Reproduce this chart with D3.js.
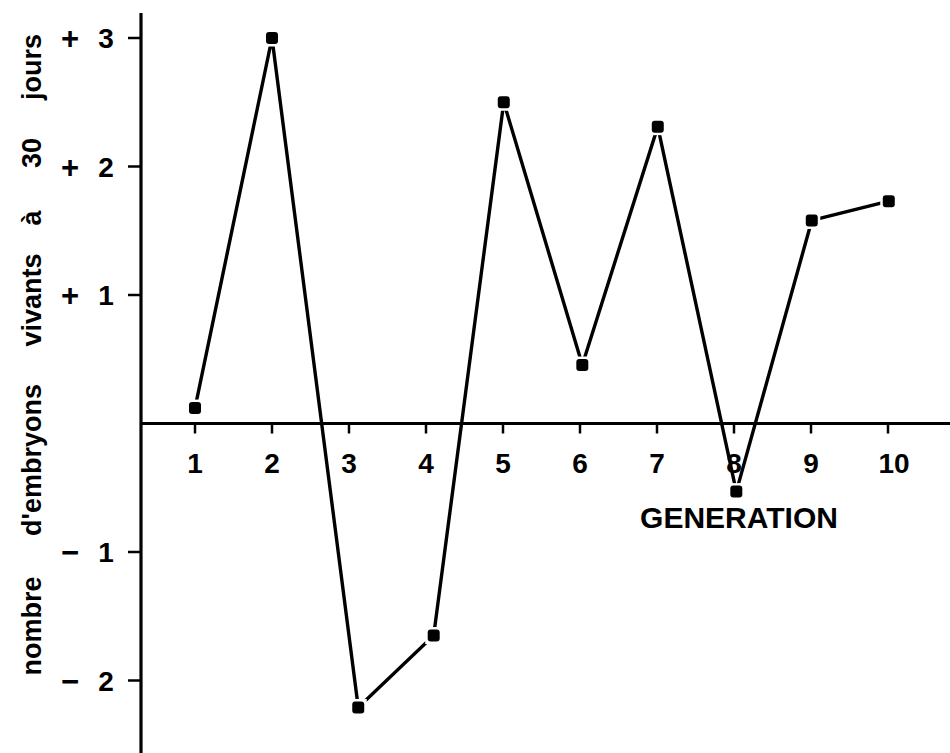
<!DOCTYPE html>
<html>
<head>
<meta charset="utf-8">
<script src="https://cdn.jsdelivr.net/npm/d3@7"></script>
<style>
  html, body { margin: 0; padding: 0; background: #fff; }
  svg { display: block; }
  text { font-family: "Liberation Sans", Arial, sans-serif; font-weight: bold; fill: #000; }
</style>
</head>
<body>
<script>
// ---- data ----
const generations = [1, 2, 3, 4, 5, 6, 7, 8, 9, 10];
// plotted horizontal position of each point (slightly off the ticks in the original)
const pointX = [1.0, 2.0, 3.12, 4.1, 5.01, 6.03, 7.01, 8.03, 9.01, 10.01];
const values = [0.12, 3.0, -2.21, -1.65, 2.5, 0.455, 2.31, -0.53, 1.58, 1.73];
const yTicks = [3, 2, 1, -1, -2];
const yTickSigns = ["+", "+", "+", "\u2212", "\u2212"];
const yTickDigits = ["3", "2", "1", "1", "2"];
const xTickLabels = ["1", "2", "3", "4", "5", "6", "7", "8", "9", "10"];
const yTitleWords = ["nombre", "d'embryons", "vivants", "\u00e0", "30", "jours"];
const xTitle = "GENERATION";

const W = 950, H = 753;
const svg = d3.select("body").append("svg").attr("width", W).attr("height", H);

const x = d3.scaleLinear().domain([1, 10]).range([195, 888]);
const y = d3.scaleLinear().domain([0, 3]).range([423.5, 38]);
const axisX = 141;

// vertical axis
svg.append("line").attr("x1", axisX).attr("x2", axisX).attr("y1", 13).attr("y2", H)
  .attr("stroke", "#000").attr("stroke-width", 3.2);
// zero line
svg.append("line").attr("x1", axisX).attr("x2", W).attr("y1", y(0)).attr("y2", y(0))
  .attr("stroke", "#000").attr("stroke-width", 3.2);

// y ticks
svg.selectAll(".yt").data(yTicks).join("line")
  .attr("x1", axisX - 13).attr("x2", axisX).attr("y1", d => y(d)).attr("y2", d => y(d))
  .attr("stroke", "#000").attr("stroke-width", 2.5);
svg.selectAll(".ys").data(yTicks).join("text")
  .attr("x", 70).attr("y", d => y(d)).attr("dy", "0.36em")
  .attr("text-anchor", "middle").attr("font-size", 31)
  .text((d, i) => yTickSigns[i]);
svg.selectAll(".yd").data(yTicks).join("text")
  .attr("x", 106).attr("y", d => y(d)).attr("dy", "0.36em")
  .attr("text-anchor", "middle").attr("font-size", 28)
  .text((d, i) => yTickDigits[i]);

// x ticks
svg.selectAll(".xt").data(generations).join("line")
  .attr("x1", d => x(d)).attr("x2", d => x(d)).attr("y1", y(0)).attr("y2", y(0) + 10)
  .attr("stroke", "#000").attr("stroke-width", 2.5);
svg.selectAll(".xl").data(generations).join("text")
  .attr("x", (d, i) => x(d) + (i === 9 ? 6 : 0)).attr("y", 473)
  .attr("text-anchor", "middle").attr("font-size", 28)
  .text((d, i) => xTickLabels[i]);

// x title
svg.append("text").attr("x", 739).attr("y", 528).attr("text-anchor", "middle")
  .attr("font-size", 30).text(xTitle);

// y title (rotated words)
const wordCenters = [626, 460, 300, 218, 153, 67];
yTitleWords.forEach((w, i) => {
  svg.append("text")
    .attr("transform", `translate(31,${wordCenters[i]}) rotate(-90)`)
    .attr("text-anchor", "middle").attr("dy", "0.36em")
    .attr("font-size", 27).text(w);
});

// series line
const pts = values.map((v, i) => [x(pointX[i]), y(v)]);
svg.append("path").attr("d", d3.line()(pts))
  .attr("fill", "none").attr("stroke", "#000").attr("stroke-width", 3.4)
  .attr("stroke-linejoin", "miter");

// markers with a white halo (gap between line and marker)
const g = svg.append("g");
g.selectAll(".halo").data(pts).join("rect")
  .attr("x", d => d[0] - 8.5).attr("y", d => d[1] - 8.5).attr("width", 17).attr("height", 17)
  .attr("fill", "#fff");
g.selectAll(".mk").data(pts).join("rect")
  .attr("x", d => d[0] - 6).attr("y", d => d[1] - 6).attr("width", 12).attr("height", 12)
  .attr("rx", 3).attr("fill", "#000");
</script>
</body>
</html>
